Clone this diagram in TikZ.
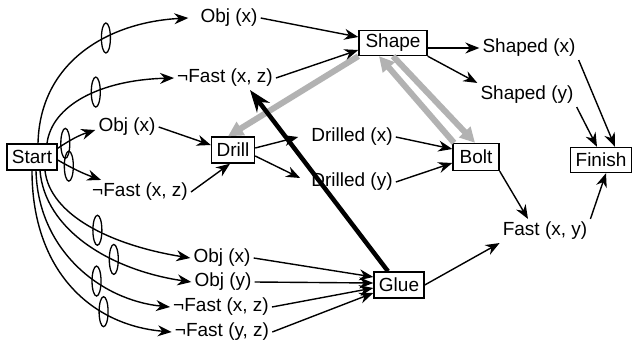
\documentclass[tikz,border=0pt]{standalone}
\usepackage{fontspec}
\setmainfont{Liberation Sans}
\usetikzlibrary{arrows.meta,shapes.geometric}
\begin{document}
\begin{tikzpicture}[x=1pt,y=1pt,
 box/.style={draw,line width=1.4pt,inner sep=1pt,font=\fontsize{19}{20}\selectfont,minimum height=26pt},
 lbl/.style={inner sep=3pt,font=\fontsize{19}{20}\selectfont},
 arr/.style={line width=1.4pt,-{Stealth[length=14pt,width=11pt]}},
 ov/.style={draw,ellipse,line width=1.3pt,minimum width=9pt,minimum height=30pt,inner sep=0pt},
 threat/.style={line width=6pt,draw=gray!60,-{Triangle[length=15pt,width=15pt]},gray!60},
 big/.style={line width=4.5pt,-{Stealth[length=22pt,width=16pt]}}]
\fill[white] (0,0) rectangle (632,-343);
\useasboundingbox (0,0) rectangle (632,-343);
% boxes
\node[box,minimum width=50pt] (start) at (32,-157) {Start};
\node[box,minimum width=43pt] (drill) at (233,-150) {Drill};
\node[box,minimum width=68pt,minimum height=25pt] (shape) at (393,-43) {Shape};
\node[box,minimum width=46pt,minimum height=27pt] (bolt) at (476,-157) {Bolt};
\node[box,minimum width=61pt,minimum height=25pt] (finish) at (601,-160) {Finish};
\node[box,minimum width=50pt] (glue) at (399,-285) {Glue};
% labels
\node[lbl] (o1) at (229,-18) {Obj (x)};
\node[lbl] (f1) at (225,-78) {¬Fast (x, z)};
\node[lbl] (o2) at (127,-127) {Obj (x)};
\node[lbl] (f2) at (140,-192) {¬Fast (x, z)};
\node[lbl] (o3) at (222,-258) {Obj (x)};
\node[lbl] (o4) at (223,-282) {Obj (y)};
\node[lbl] (f3) at (221,-307) {¬Fast (x, z)};
\node[lbl] (f4) at (222,-332) {¬Fast (y, z)};
\node[lbl] (sx) at (529,-48) {Shaped (x)};
\node[lbl] (sy) at (527,-95) {Shaped (y)};
\node[lbl] (dx) at (352,-137) {Drilled (x)};
\node[lbl] (dy) at (352,-182) {Drilled (y)};
\node[lbl] (fxy) at (545,-231) {Fast (x, y)};
% threat arrows
\draw[threat] (shape.south west) -- ([xshift=-5pt]drill.north);
\draw[threat] ([xshift=-22pt]bolt.north) -- ([xshift=-14pt]shape.south);
\draw[threat] ([xshift=0pt]shape.south) -- ([xshift=-1pt]bolt.north);
% curves from start
\draw[arr] ([xshift=6pt]start.north) .. controls +(2,83) and (110,-22) .. node[ov,pos=0.62] (e1) {} ([xshift=-9pt]o1.west);
\draw[arr] ([xshift=15pt]start.north) .. controls +(5,38) and (100,-80) .. node[ov,pos=0.58] (e2) {} (f1.west);
\draw[arr] ([yshift=-5pt]start.north east) to[bend left=8] node[ov,pos=0.2] (e3) {} ([yshift=-3pt]o2.west);
\draw[arr] ([yshift=-3pt]start.east) to[bend right=5] node[ov,pos=0.25] (e4) {} ([xshift=12pt]f2.north west);
\draw[arr] ([xshift=13pt]start.south) .. controls +(5,-44) and (110,-245) .. node[ov,pos=0.55] (e5) {} (o3.west);
\draw[arr] ([xshift=8pt]start.south) .. controls +(5,-59) and (110,-270) .. node[ov,pos=0.65] (e6) {} (o4.west);
\draw[arr] ([xshift=4pt]start.south) .. controls +(2,-79) and (100,-300) .. node[ov,pos=0.62] (e7) {} (f3.west);
\draw[arr] (start.south) .. controls +(0,-99) and (90,-325) .. node[ov,pos=0.69] (e8) {} (f4.west);
% drill
\draw[arr] (o2.east) -- ([yshift=5pt]drill.west);
\draw[arr] (f2.east) -- ([xshift=-3pt]drill.south);
\draw[arr] ([yshift=2pt]drill.east) -- ([xshift=-10pt]dx.west);
\draw[arr] ([yshift=-6pt]drill.east) -- ([xshift=-8pt,yshift=4pt]dy.west);
\draw[arr] (dx.east) -- ([yshift=8pt]bolt.west);
\draw[arr] (dy.east) -- ([yshift=-6pt]bolt.west);
% shape
\draw[arr] (o1.east) -- ([yshift=6pt]shape.west);
\draw[arr] (f1.east) -- ([yshift=-7pt]shape.west);
\draw[arr] ([yshift=-5pt]shape.east) -- (sx.west);
\draw[arr] (shape.south east) -- (sy.north west);
\draw[arr] (sx.south east) -- ([xshift=14pt]finish.north);
\draw[arr] (sy.south east) -- ([xshift=-4pt]finish.north);
% bolt, glue
\draw[arr] (bolt.south east) -- ([xshift=-17pt]fxy.north);
\draw[arr] (fxy.north east) -- ([xshift=5pt]finish.south);
\draw[arr] (glue.east) -- (fxy.south west);
\draw[arr] (o3.east) -- ([yshift=8pt]glue.west);
\draw[arr] (o4.east) -- ([yshift=2pt]glue.west);
\draw[arr] (f3.east) -- ([yshift=-3pt]glue.west);
\draw[arr] (f4.east) -- ([yshift=-8pt]glue.west);
% big arrow
\draw[big] ([xshift=-11pt]glue.north) -- ([xshift=25pt]f1.south);
\end{tikzpicture}
\end{document}
